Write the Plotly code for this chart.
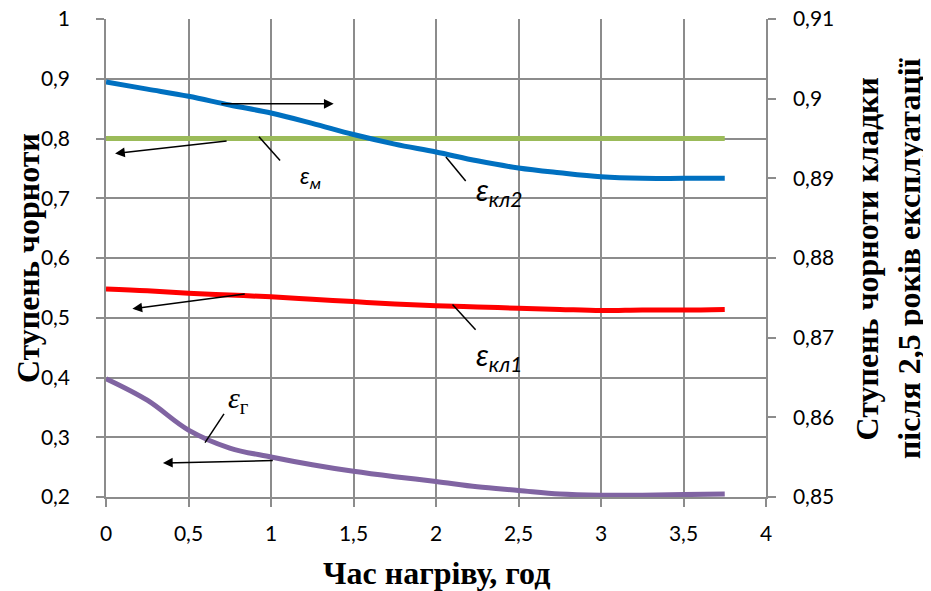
import plotly.graph_objects as go

# heating time, h
time_h = [0, 0.25, 0.5, 0.75, 1, 1.25, 1.5, 1.75, 2, 2.25, 2.5, 2.75, 3, 3.25, 3.5, 3.75]

# emissivity series (left axis)
eps_m = [0.8] * 16
eps_kl1 = [0.548, 0.545, 0.541, 0.538, 0.535, 0.531, 0.527, 0.523, 0.520, 0.518, 0.516, 0.514, 0.512, 0.513, 0.513, 0.514]
eps_g = [0.398, 0.362, 0.312, 0.282, 0.267, 0.254, 0.243, 0.234, 0.226, 0.217, 0.211, 0.205, 0.203, 0.203, 0.204, 0.205]

# masonry emissivity after 2.5 years (right axis)
eps_kl2 = [0.9021, 0.9012, 0.9003, 0.8992, 0.8982, 0.8969, 0.8955, 0.8943, 0.8933, 0.8922, 0.8913, 0.8907, 0.8902, 0.8900, 0.8900, 0.8900]

left_ticks = [0.2, 0.3, 0.4, 0.5, 0.6, 0.7, 0.8, 0.9, 1.0]
right_ticks = [0.85, 0.86, 0.87, 0.88, 0.89, 0.90, 0.91]
x_ticks = [0, 0.5, 1, 1.5, 2, 2.5, 3, 3.5, 4]


def fmt(v):
    s = f"{v:.2f}".rstrip("0").rstrip(".")
    return s.replace(".", ",")


GRID = "#8c8c8c"
TICK_FONT = dict(family="Lato", size=21, color="black")
TITLE_FONT = dict(family="Liberation Serif", size=32, color="black")

fig = go.Figure()

fig.add_trace(go.Scatter(x=time_h, y=eps_m, mode="lines", line=dict(color="#9BBB59", width=5),
                         name="εм"))
fig.add_trace(go.Scatter(x=time_h, y=eps_kl1, mode="lines", line=dict(color="#FF0000", width=5, shape="spline"),
                         name="εкл1"))
fig.add_trace(go.Scatter(x=time_h, y=eps_g, mode="lines", line=dict(color="#8064A2", width=5, shape="spline"),
                         name="εг"))
fig.add_trace(go.Scatter(x=time_h, y=eps_kl2, mode="lines", line=dict(color="#0070C0", width=5, shape="spline"),
                         name="εкл2", yaxis="y2"))

# arrows showing which axis each curve belongs to
arrows = [
    (0.69, 0.858, 1.38, 0.858),
    (0.74, 0.796, 0.055, 0.775),
    (0.85, 0.540, 0.16, 0.515),
    (1.02, 0.261, 0.345, 0.257),
]
for ax0, ay0, x1, y1 in arrows:
    fig.add_annotation(x=x1, y=y1, ax=ax0, ay=ay0, xref="x", yref="y", axref="x", ayref="y",
                       text="", showarrow=True, arrowhead=2, arrowsize=1.3, arrowwidth=1.5,
                       arrowcolor="black")

# leader lines to labels
leaders = [
    (0.927, 0.803, 1.055, 0.763),
    (2.06, 0.769, 2.18, 0.729),
    (2.10, 0.522, 2.24, 0.480),
    (0.715, 0.339, 0.60, 0.291),
]
for x0, y0, x1, y1 in leaders:
    fig.add_shape(type="line", x0=x0, y0=y0, x1=x1, y1=y1, xref="x", yref="y",
                  line=dict(color="black", width=1.5))

labels = [
    (1.24, 0.736, "<i>ε<sub>м</sub></i>", "Lato", 23),
    (2.38, 0.712, "<i>ε<sub>кл2</sub></i>", "Lato", 30),
    (2.38, 0.436, "<i>ε<sub>кл1</sub></i>", "Lato", 30),
    (0.80, 0.362, "<i>ε</i><sub>г</sub>", "Liberation Serif", 30),
]
for lx, ly, txt, fam, sz in labels:
    fig.add_annotation(x=lx, y=ly, xref="x", yref="y", text=txt, showarrow=False,
                       font=dict(family=fam, size=sz, color="black"))

# axis titles
fig.add_annotation(x=-0.118, y=0.5, xref="paper", yref="paper", text="<b>Ступень чорноти</b>",
                   textangle=-90, showarrow=False, font=TITLE_FONT, xanchor="center", yanchor="middle")
fig.add_annotation(x=1.185, y=0.5, xref="paper", yref="paper",
                   text="<b>Ступень чорноти кладки<br>після 2,5 років експлуатації</b>",
                   textangle=-90, showarrow=False, font=TITLE_FONT, xanchor="center", yanchor="middle")
fig.add_annotation(x=0.5, y=-0.159, xref="paper", yref="paper", text="<b>Час нагріву, год</b>",
                   showarrow=False, font=TITLE_FONT, xanchor="center", yanchor="middle")

axis_style = dict(showline=True, linecolor=GRID, linewidth=1.5,
                  ticks="outside", ticklen=8, tickcolor=GRID, tickwidth=1.5,
                  zeroline=False, tickfont=TICK_FONT, automargin=False,
                  ticklabeloverflow="allow")

# the page body adds an 8px offset at the top-left, so the figure is shrunk by 8px
fig.update_layout(
    width=923, height=583,
    margin=dict(l=98, r=165, t=11, b=94),
    plot_bgcolor="white", paper_bgcolor="white",
    showlegend=False,
    xaxis=dict(range=[0, 4], tickvals=x_ticks, ticktext=[fmt(v) for v in x_ticks],
               showgrid=True, gridcolor=GRID, gridwidth=1.5, ticklabelstandoff=9, **axis_style),
    yaxis=dict(range=[0.2, 1], tickvals=left_ticks, ticktext=[fmt(v) for v in left_ticks],
               showgrid=True, gridcolor=GRID, gridwidth=1.5, ticklabelstandoff=22, **axis_style),
    yaxis2=dict(range=[0.85, 0.91], tickvals=right_ticks, ticktext=[fmt(v) for v in right_ticks],
                overlaying="y", side="right", showgrid=False, ticklabelstandoff=13, **axis_style),
)

fig.write_html("out.html")
